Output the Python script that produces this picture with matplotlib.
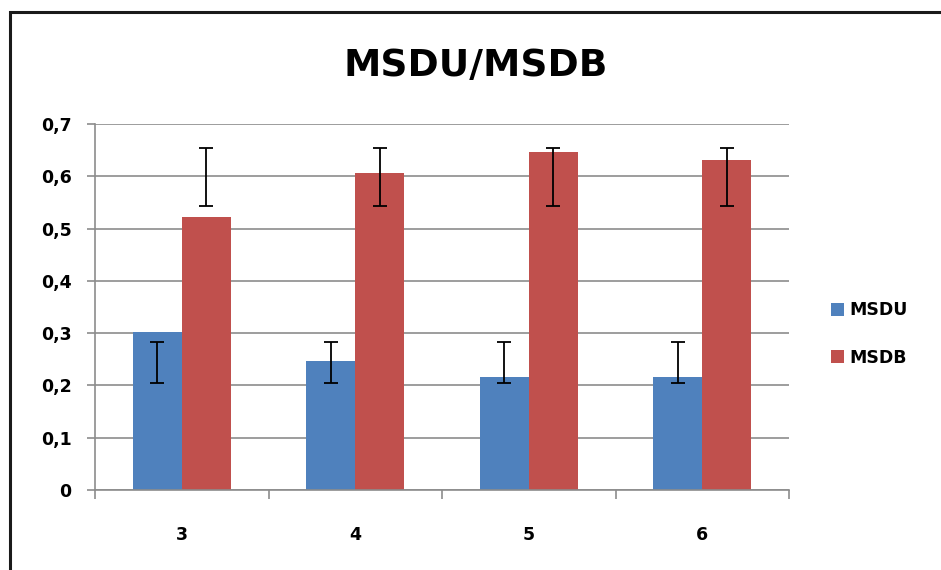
import matplotlib
matplotlib.use("Agg")
import matplotlib.pyplot as plt
import numpy as np
from matplotlib.patches import Rectangle, Patch

# Data
categories = ["3", "4", "5", "6"]
msdu = [0.302, 0.247, 0.217, 0.217]
msdb = [0.523, 0.606, 0.646, 0.631]
# error bar ends (low, high) as drawn
msdu_err_low = [0.204, 0.204, 0.204, 0.204]
msdu_err_high = [0.284, 0.284, 0.284, 0.284]
msdb_err_low = [0.544, 0.544, 0.544, 0.544]
msdb_err_high = [0.655, 0.655, 0.655, 0.655]
y_ticks = [0, 0.1, 0.2, 0.3, 0.4, 0.5, 0.6, 0.7]
y_tick_labels = ["0", "0,1", "0,2", "0,3", "0,4", "0,5", "0,6", "0,7"]

blue = "#4F81BD"
red = "#C0504D"
grid_col = "#8c8c8c"

fig = plt.figure(figsize=(9.41, 5.70), dpi=100)
ax = fig.add_axes([95 / 941, 1 - 490 / 570, (789 - 95) / 941, (490 - 124) / 570])

x = np.arange(len(categories))
w = 0.283

ax.bar(x - w, msdu, width=w, align="edge", color=blue, zorder=2)
ax.bar(x, msdb, width=w, align="edge", color=red, zorder=2)

# error bars (not centred on bar tops, so draw from their own ends)
def draw_err(xpos, low, high):
    low = np.array(low)
    high = np.array(high)
    mid = (low + high) / 2
    half = (high - low) / 2
    ax.errorbar(xpos, mid, yerr=half, fmt="none", ecolor="black",
                elinewidth=1.3, capsize=4.7, capthick=1.3, zorder=3)

draw_err(x - w / 2, msdu_err_low, msdu_err_high)
draw_err(x + w / 2, msdb_err_low, msdb_err_high)

ax.set_xlim(-0.5, len(categories) - 0.5)
ax.set_ylim(0, 0.7)

ax.set_yticks(y_ticks)
ax.set_yticklabels(y_tick_labels)
ax.yaxis.grid(True, color=grid_col, linewidth=1.2, zorder=0)
ax.set_axisbelow(True)

ax.set_xticks(x)
ax.set_xticklabels(categories)
ax.set_xticks(np.arange(-0.5, len(categories)), minor=True)
ax.tick_params(axis="x", which="major", length=0, pad=26)
ax.tick_params(axis="x", which="minor", length=6.5, width=1.2, color=grid_col)
ax.tick_params(axis="y", length=6, width=1.2, color=grid_col, pad=11)

for lab in ax.get_xticklabels() + ax.get_yticklabels():
    lab.set_fontweight("bold")
    lab.set_fontsize(12.5)

for side in ["top", "right"]:
    ax.spines[side].set_visible(False)
for side in ["left", "bottom"]:
    ax.spines[side].set_color(grid_col)
    ax.spines[side].set_linewidth(1.2)

fig.text(476 / 941, 1 - 66 / 570, "MSDU/MSDB", ha="center", va="center",
         fontsize=27, fontweight="bold")

handles = [Patch(facecolor=blue, label="MSDU"), Patch(facecolor=red, label="MSDB")]
fig.legend(handles=handles, loc="center left", bbox_to_anchor=(831 / 941, 1 - 334 / 570),
           frameon=False, prop={"weight": "bold", "size": 12.5},
           handlelength=0.75, handleheight=0.75, handletextpad=0.3,
           labelspacing=1.7, borderpad=0, borderaxespad=0)

# outer chart border (cropped on the right and bottom)
fig.patches.append(Rectangle((10 / 941, -0.1), 1.2, 1.1 - 12 / 570, transform=fig.transFigure,
                             fill=False, edgecolor="#1a1a1a", linewidth=2.2))

fig.savefig("out.png", dpi=100)
